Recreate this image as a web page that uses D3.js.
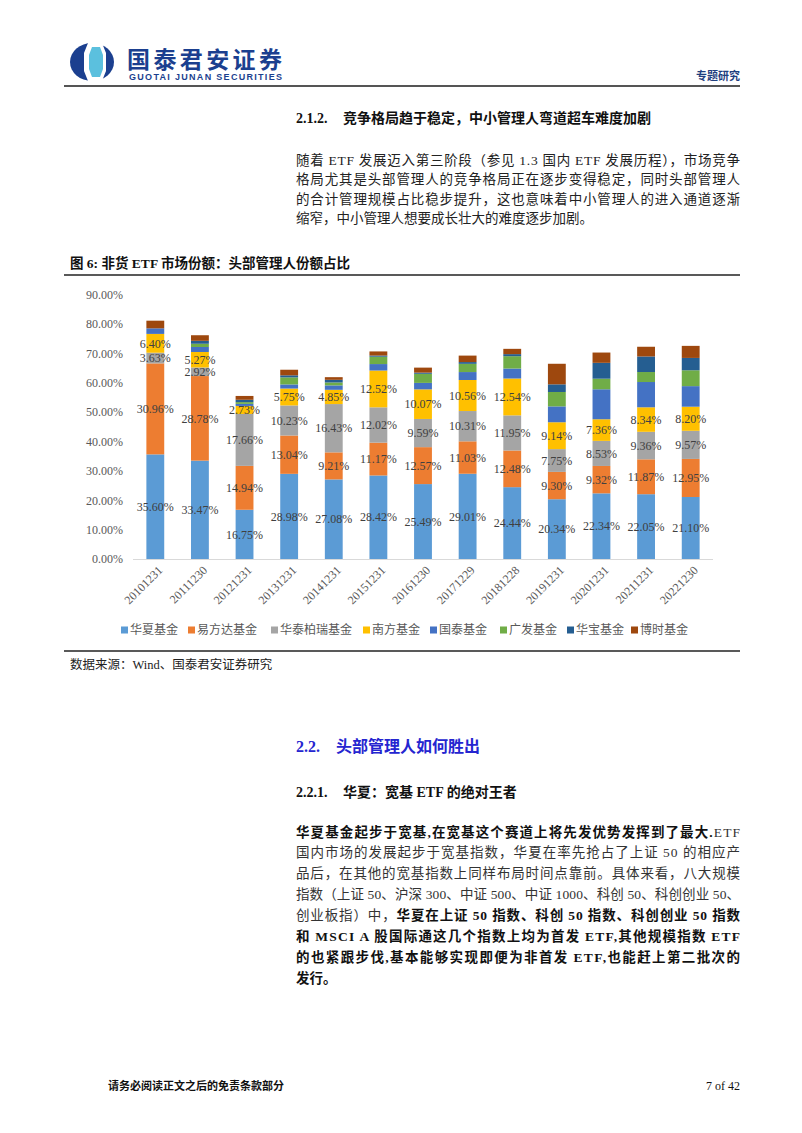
<html>
<head>
<meta charset="utf-8">
<script src="https://d3js.org/d3.v7.min.js"></script>
<style>
body { margin: 0; background: #fff; }
svg { display: block; }
text { font-family: 'Liberation Serif', 'Noto Sans CJK SC', serif; }
.cjk { font-family: 'Liberation Serif', 'Noto Sans CJK SC', sans-serif; }
</style>
</head>
<body>
<div id="page"></div>
<script>
var width = 802, height = 1133;

// chart data (percent of non-money ETF share)
var dates = ["20101231","20111230","20121231","20131231","20141231","20151231","20161230",
             "20171229","20181228","20191231","20201231","20211231","20221230"];
var huaxia   = [35.60,33.47,16.75,28.98,27.08,28.42,25.49,29.01,24.44,20.34,22.34,22.05,21.10];
var efund    = [30.96,28.78,14.94,13.04, 9.21,11.17,12.57,11.03,12.48, 9.30, 9.32,11.87,12.95];
var huatai   = [ 3.63, 2.92,17.66,10.23,16.43,12.02, 9.59,10.31,11.95, 7.75, 8.53, 9.36, 9.57];
var southern = [ 6.40, 5.27, 2.73, 5.75, 4.85,12.52,10.07,10.56,12.54, 9.14, 7.36, 8.34, 8.20];
var guotai   = [ 1.9, 1.7, 0.7, 1.4, 1.5, 2.2, 2.2, 2.7, 3.4, 5.4,10.2, 8.6, 7.0];
var gf       = [ 0.0, 1.1, 0.6, 2.4, 1.0, 2.5, 3.1, 2.8, 4.2, 4.9, 3.6, 3.4, 5.4];
var huabao   = [ 0.0, 1.0, 0.8, 0.7, 0.9, 0.4, 0.4, 0.6, 0.7, 2.6, 5.4, 5.3, 4.2];
var bosera   = [ 2.6, 1.9, 1.3, 1.9, 0.9, 1.4, 1.7, 2.2, 1.8, 7.0, 3.5, 3.3, 4.1];
var names = ["华夏基金","易方达基金","华泰柏瑞基金","南方基金","国泰基金","广发基金","华宝基金","博时基金"];
var colors = ["#5B9BD5","#ED7D31","#A5A5A5","#FFC000","#4472C4","#70AD47","#255E91","#9E480E"];
var yTicks = [0,10,20,30,40,50,60,70,80,90];
var labelledSeries = 4;

var seriesValues = [huaxia, efund, huatai, southern, guotai, gf, huabao, bosera];
var rows = dates.map(function(d, i) {
  var r = { date: d };
  names.forEach(function(n, k) { r[n] = seriesValues[k][i]; });
  return r;
});

var svg = d3.select("#page").append("svg").attr("width", width).attr("height", height);
svg.append("rect").attr("width", width).attr("height", height).attr("fill", "#fff");

// ---------- page header ----------
var logo = svg.append("g").attr("transform", "translate(92,62)");
logo.append("ellipse").attr("rx", 22).attr("ry", 19).attr("fill", "#1B3F8F");
logo.append("path").attr("d", "M-4,-19 L10,-19 L14,-9 L14,9 L10,19 L-4,19 L-8,9 L-8,-9 Z").attr("fill", "#fff");
logo.append("path").attr("d", "M0,-15 L8,-15 L11,-7 L11,7 L8,15 L0,15 L-3,7 L-3,-7 Z").attr("fill", "#5BC0DE");
svg.append("text").attr("x", 127).attr("y", 68).attr("class", "cjk")
  .style("font-size", "23px").style("font-weight", "bold").attr("fill", "#1B3F8F")
  .attr("textLength", 155).text("国泰君安证券");
svg.append("text").attr("x", 129).attr("y", 80)
  .style("font-family", "'Liberation Sans', sans-serif")
  .style("font-size", "9px").style("font-weight", "bold").attr("fill", "#1B3F8F")
  .attr("textLength", 153).text("GUOTAI JUNAN SECURITIES");
svg.append("text").attr("x", 740).attr("y", 80).attr("text-anchor", "end")
  .style("font-size", "11px").style("font-weight", "bold").attr("fill", "#1F3F7F").text("专题研究");
svg.append("line").attr("x1", 64).attr("x2", 740).attr("y1", 86).attr("y2", 86)
  .attr("stroke", "#555").attr("stroke-width", 2);

// ---------- text blocks ----------
var colX = 296, colW = 444;

function heading(num, title, y, size, color, gapX) {
  var t = svg.append("text").attr("x", colX).attr("y", y)
    .style("font-size", size + "px").style("font-weight", "bold").attr("fill", color);
  t.append("tspan").text(num);
  t.append("tspan").attr("x", gapX).text(title);
}

heading("2.1.2.", "竞争格局趋于稳定，中小管理人弯道超车难度加剧", 123, 14, "#111", 343);

var para1 = [
  "随着 ETF 发展迈入第三阶段（参见 1.3  国内 ETF 发展历程），市场竞争",
  "格局尤其是头部管理人的竞争格局正在逐步变得稳定，同时头部管理人",
  "的合计管理规模占比稳步提升，这也意味着中小管理人的进入通道逐渐",
  "缩窄，中小管理人想要成长壮大的难度逐步加剧。"
];
para1.forEach(function(line, i) {
  var t = svg.append("text").attr("x", colX).attr("y", 165 + i * 19.4)
    .style("font-size", "13.5px").attr("fill", "#222").text(line);
  if (i < para1.length - 1) t.attr("textLength", colW).attr("lengthAdjust", "spacing");
});

svg.append("text").attr("x", 70).attr("y", 268)
  .style("font-size", "13.5px").style("font-weight", "bold").attr("fill", "#111")
  .text("图 6: 非货 ETF 市场份额：头部管理人份额占比");
svg.append("line").attr("x1", 64).attr("x2", 740).attr("y1", 275).attr("y2", 275)
  .attr("stroke", "#222").attr("stroke-width", 1.5);

// ---------- chart ----------
var x = d3.scaleBand().domain(dates).range([133, 713]).paddingInner(0.6).paddingOuter(0.3);
var y = d3.scaleLinear().domain([0, 90]).range([559, 294.5]);

var stacked = d3.stack().keys(names)(rows);

var layers = svg.append("g").selectAll("g").data(stacked).enter().append("g")
  .attr("fill", function(d, i) { return colors[i]; });

layers.selectAll("rect").data(function(d) { return d; }).enter().append("rect")
  .attr("x", function(d) { return x(d.data.date); })
  .attr("width", x.bandwidth())
  .attr("y", function(d) { return y(d[1]); })
  .attr("height", function(d) { return y(d[0]) - y(d[1]); });

// data labels for the four biggest managers
var labels = svg.append("g").style("font-size", "12px").attr("fill", "#404040").attr("text-anchor", "middle");
stacked.slice(0, labelledSeries).forEach(function(layer) {
  labels.selectAll(null).data(layer).enter().append("text")
    .attr("x", function(d) { return x(d.data.date) + x.bandwidth() / 2; })
    .attr("y", function(d) { return y((d[0] + d[1]) / 2); })
    .attr("dy", "0.35em")
    .text(function(d) { return (d[1] - d[0]).toFixed(2) + "%"; });
});

// y axis labels, no axis line
var yAxis = svg.append("g").attr("transform", "translate(123,0)")
  .call(d3.axisLeft(y).tickValues(yTicks).tickSize(0).tickPadding(0)
    .tickFormat(function(d) { return d.toFixed(2) + "%"; }));
yAxis.select(".domain").remove();
yAxis.selectAll("text").style("font-family", "'Liberation Serif', serif")
  .style("font-size", "12px").attr("fill", "#595959");

// x axis line + rotated labels
svg.append("line").attr("x1", 133).attr("x2", 713).attr("y1", 559.5).attr("y2", 559.5)
  .attr("stroke", "#D9D9D9").attr("stroke-width", 1);
svg.append("g").selectAll("text").data(dates).enter().append("text")
  .attr("transform", function(d) { return "translate(" + (x(d) + x.bandwidth() / 2 + 5) + ",568) rotate(-45)"; })
  .attr("text-anchor", "end").attr("dy", "0.35em")
  .style("font-size", "12px").attr("fill", "#595959")
  .text(function(d) { return d; });

// legend
var legendX = [121, 188, 271, 363, 430, 500, 567, 631];
var legend = svg.append("g").selectAll("g").data(names).enter().append("g")
  .attr("transform", function(d, i) { return "translate(" + legendX[i] + ",630)"; });
legend.append("rect").attr("x", 0).attr("y", -3.5).attr("width", 7).attr("height", 7)
  .attr("fill", function(d, i) { return colors[i]; });
legend.append("text").attr("x", 9).attr("dy", "0.35em")
  .style("font-size", "12px").attr("fill", "#595959")
  .text(function(d) { return d; });

svg.append("line").attr("x1", 64).attr("x2", 740).attr("y1", 651).attr("y2", 651)
  .attr("stroke", "#222").attr("stroke-width", 1.5);
svg.append("text").attr("x", 70).attr("y", 669)
  .style("font-size", "12.5px").attr("fill", "#222").text("数据来源：Wind、国泰君安证券研究");

// ---------- section 2.2 ----------
heading("2.2.", "头部管理人如何胜出", 752, 16, "#2525D0", 336);
heading("2.2.1.", "华夏：宽基 ETF 的绝对王者", 797, 14, "#111", 343);

// each line: list of [text, bold]
var para2 = [
  [["华夏基金起步于宽基,在宽基这个赛道上将先发优势发挥到了最大.", true], ["ETF", false]],
  [["国内市场的发展起步于宽基指数，华夏在率先抢占了上证 50 的相应产", false]],
  [["品后，在其他的宽基指数上同样布局时间点靠前。具体来看，八大规模", false]],
  [["指数（上证 50、沪深 300、中证 500、中证 1000、科创 50、科创创业 50、", false]],
  [["创业板指）中，", false], ["华夏在上证 50 指数、科创 50 指数、科创创业 50 指数", true]],
  [["和 MSCI A 股国际通这几个指数上均为首发 ETF,其他规模指数 ETF", true]],
  [["的也紧跟步伐,基本能够实现即便为非首发 ETF,也能赶上第二批次的", true]],
  [["发行。", true]]
];
para2.forEach(function(parts, i) {
  var t = svg.append("text").attr("x", colX).attr("y", 836.5 + i * 20.95)
    .style("font-size", "13.5px").attr("fill", "#222");
  parts.forEach(function(p) {
    t.append("tspan").style("font-weight", p[1] ? "bold" : "normal")
      .attr("fill", p[1] ? "#111" : "#333").text(p[0]);
  });
  if (i < para2.length - 1) t.attr("textLength", colW).attr("lengthAdjust", "spacing");
});

// ---------- footer ----------
svg.append("text").attr("x", 108).attr("y", 1090)
  .style("font-size", "11px").style("font-weight", "bold").attr("fill", "#111")
  .text("请务必阅读正文之后的免责条款部分");
svg.append("text").attr("x", 740).attr("y", 1090).attr("text-anchor", "end")
  .style("font-size", "12px").attr("fill", "#111").text("7 of 42");
</script>
</body>
</html>
